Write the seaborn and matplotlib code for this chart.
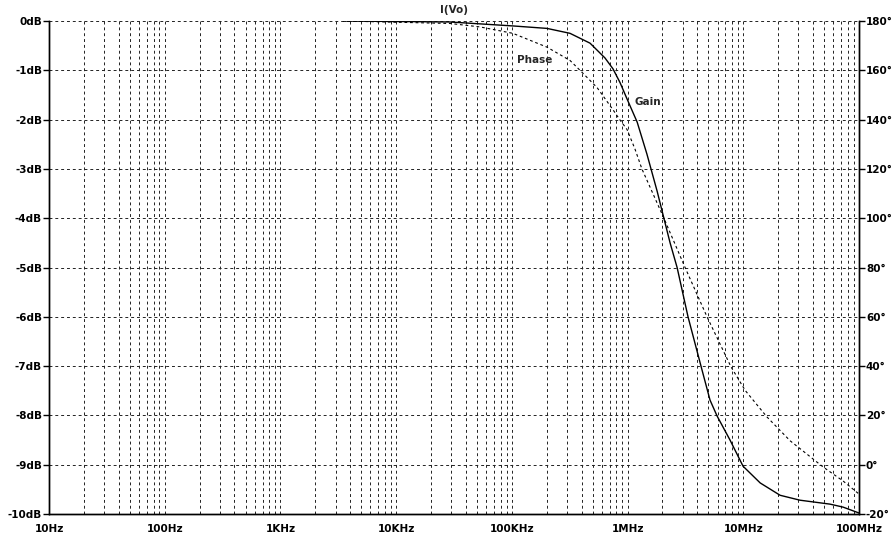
import numpy as np
import pandas as pd
import matplotlib
matplotlib.use("Agg")
import matplotlib.pyplot as plt
import matplotlib.ticker as mticker
import seaborn as sns

# ---- data ----
gain_freq = [3.5e3, 29.2e3, 102e3, 201e3, 318e3, 474e3, 638e3, 748e3, 861e3,
             989e3, 1.21e6, 1.47e6, 1.80e6, 2.06e6, 2.33e6, 2.68e6, 3.33e6,
             4.31e6, 5.16e6, 5.93e6, 7.68e6, 9.95e6, 14.0e6, 20.8e6, 30.9e6,
             56.2e6, 72.8e6, 100e6]
gain_db = [0.0, -0.02, -0.1, -0.15, -0.25, -0.45, -0.75, -0.97, -1.25,
           -1.58, -2.05, -2.7, -3.45, -4.0, -4.5, -5.0, -6.0,
           -7.0, -7.69, -8.01, -8.5, -9.03, -9.37, -9.62, -9.72,
           -9.80, -9.86, -9.98]

phase_freq = [3.5e3, 29.2e3, 53.1e3, 102e3, 201e3, 318e3, 388e3, 545e3, 748e3,
              861e3, 989e3, 1.16e6, 1.33e6, 2.06e6, 3.14e6, 4.86e6, 7.83e6,
              10.4e6, 16.0e6, 25.4e6, 48.9e6, 72.8e6, 100e6]
phase_deg = [180.0, 179.0, 177.6, 175.0, 169.4, 164.0, 160.0, 153.0, 144.0,
             139.8, 136.0, 128.0, 120.0, 100.0, 80.0, 60.0, 39.7,
             30.1, 19.4, 9.7, -0.9, -6.6, -11.9]

x_ticks = [1e1, 1e2, 1e3, 1e4, 1e5, 1e6, 1e7, 1e8]
x_labels = ["10Hz", "100Hz", "1KHz", "10KHz", "100KHz", "1MHz", "10MHz", "100MHz"]
db_ticks = [0, -1, -2, -3, -4, -5, -6, -7, -8, -9, -10]
db_labels = [f"{v}dB" for v in db_ticks]
deg_ticks = [180, 160, 140, 120, 100, 80, 60, 40, 20, 0, -20]
deg_labels = [f"{v}°" for v in deg_ticks]

title = "I(Vo)"

# ---- plotting ----
sns.set_style("white")
plt.rcParams["font.family"] = ["DejaVu Sans"]
plt.rcParams["font.weight"] = "bold"

fig = plt.figure(figsize=(8.96, 5.39), dpi=100)
ax = fig.add_axes([49/896, 1-514/539, 810/896, 493/539])
ax2 = ax.twinx()

gdf = pd.DataFrame({"freq": gain_freq, "dB": gain_db})
pdf = pd.DataFrame({"freq": phase_freq, "deg": phase_deg})

sns.lineplot(data=gdf, x="freq", y="dB", ax=ax, color="black", linewidth=1.0)
sns.lineplot(data=pdf, x="freq", y="deg", ax=ax2, color="black", linewidth=0.8,
             linestyle=(0, (2.5, 2.5)))

ax.set_xscale("log")
ax.set_xlim(10, 1e8)
ax.set_ylim(-10, 0)
ax2.set_ylim(-20, 180)

ax.set_xticks(x_ticks)
ax.set_xticklabels(x_labels)
ax.xaxis.set_minor_locator(mticker.LogLocator(base=10, subs=np.arange(2, 10), numticks=100))
ax.xaxis.set_minor_formatter(mticker.NullFormatter())
ax.set_yticks(db_ticks)
ax.set_yticklabels(db_labels)
ax2.set_yticks(deg_ticks)
ax2.set_yticklabels(deg_labels)

for a in (ax, ax2):
    a.set_xlabel("")
    a.set_ylabel("")
    a.spines["top"].set_visible(False)
    for s in ("left", "right", "bottom"):
        a.spines[s].set_color("black")
        a.spines[s].set_linewidth(1.0)

grid_kw = dict(color="#222222", linewidth=0.7, linestyle=(0, (3, 3)))
ax.grid(True, which="major", axis="both", **grid_kw)
ax.grid(True, which="minor", axis="x", **grid_kw)
ax.set_axisbelow(True)

ax.tick_params(axis="x", which="major", direction="out", length=3, width=1,
               pad=4, labelsize=7.5, colors="black")
ax.tick_params(axis="x", which="minor", length=0)
ax.tick_params(axis="y", direction="out", length=4, width=1, pad=1,
               labelsize=7.5, colors="black")
ax2.tick_params(axis="y", direction="out", length=4, width=1, pad=1,
                labelsize=7.5, colors="black")
for lab in ax.get_xticklabels() + ax.get_yticklabels() + ax2.get_yticklabels():
    lab.set_fontweight("bold")

ax.text(0.5, 1.012, title, transform=ax.transAxes, ha="center", va="bottom",
        fontsize=7.5, fontweight="bold")
ax.text(158e3, -0.79, "Phase", ha="center", va="center", fontsize=7.5, fontweight="bold")
ax.text(1.50e6, -1.64, "Gain", ha="center", va="center", fontsize=7.5, fontweight="bold")

fig.savefig("out.png", dpi=100, facecolor="white")
